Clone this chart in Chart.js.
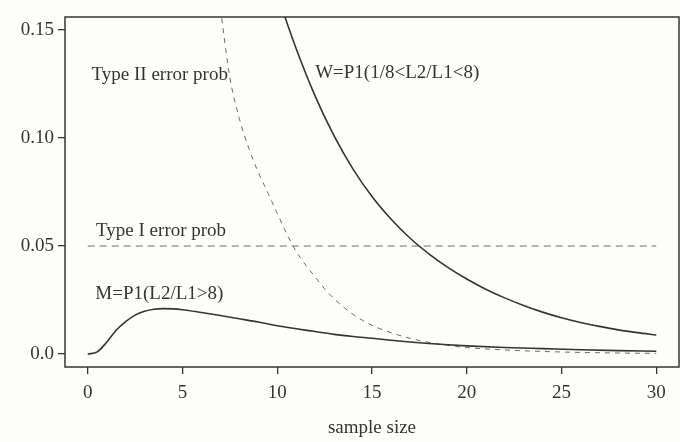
<!DOCTYPE html>
<html>
<head>
<meta charset="utf-8">
<title>sample size</title>
<script src="https://cdn.jsdelivr.net/npm/chart.js@4.4.1/dist/chart.umd.min.js"></script>
<style>
    html, body { margin: 0; padding: 0; background: #fdfdfa; }
    canvas { display: block; }
</style>
</head>
<body>
<canvas id="errorChart" width="680" height="442"></canvas>
<script>
// values
const mSize = [0, 0.5, 1, 1.5, 2, 2.5, 3, 3.5, 4, 4.5, 5, 6, 7, 8, 9, 10, 11, 12, 13, 14, 15, 16, 17, 18, 19, 20, 22, 24, 26, 28, 30];
const mProb = [0, 0.001, 0.0055, 0.011, 0.015, 0.018, 0.0198, 0.0207, 0.021, 0.0209, 0.0205, 0.0192, 0.0178, 0.0163, 0.0148, 0.0131, 0.0117, 0.0104, 0.0091, 0.0081, 0.0073, 0.0064, 0.0056, 0.0049, 0.0043, 0.0038, 0.003, 0.0025, 0.002, 0.0016, 0.0013];

const wSize = [10, 11, 12, 13, 14, 15, 16, 17, 18, 19, 20, 21, 22, 23, 24, 25, 26, 27, 28, 29, 30];
const wProb = [0.1663, 0.1413, 0.1194, 0.101, 0.0856, 0.0729, 0.0625, 0.0537, 0.0464, 0.0401, 0.0347, 0.03, 0.026, 0.0225, 0.0194, 0.0168, 0.0146, 0.0128, 0.0112, 0.0099, 0.0088];

const type1Size = [0, 30];
const type1Prob = [0.05, 0.05];

const type2Size = [7, 7.5, 8, 8.5, 9, 9.5, 10, 10.5, 11, 11.5, 12, 12.5, 13, 13.5, 14, 14.5, 15, 16, 17, 18, 19, 20, 22, 24, 26, 28, 30];
const type2Prob = [0.16, 0.128, 0.109, 0.0952, 0.0841, 0.0747, 0.0651, 0.0557, 0.0475, 0.0412, 0.0357, 0.0302, 0.0256, 0.0217, 0.0183, 0.0156, 0.0133, 0.0099, 0.0073, 0.0054, 0.004, 0.003, 0.0019, 0.0012, 0.00075, 0.00048, 0.0003];

const xTickValues = [0, 5, 10, 15, 20, 25, 30];
const xTickLabels = ['0', '5', '10', '15', '20', '25', '30'];
const yTickValues = [0, 0.05, 0.1, 0.15];
const yTickLabels = ['0.0', '0.05', '0.10', '0.15'];

const seriesNames = ['M=P1(L2/L1>8)', 'W=P1(1/8<L2/L1<8)', 'Type I error prob', 'Type II error prob'];
const xTitle = 'sample size';

const ink = '#363432';
const dashInk = '#6e6c69';
const serif = '"Liberation Serif", "Times New Roman", serif';

function toPoints(xs, ys) {
    return xs.map((v, i) => ({ x: v, y: ys[i] }));
}

// where the curve names sit, in data units
const labelSpots = [
    { x: 0.4, y: 0.0276 },
    { x: 12.0, y: 0.13 },
    { x: 0.44, y: 0.0568 },
    { x: 0.2, y: 0.129 }
];

const plotDecor = {
    id: 'plotDecor',
    beforeDraw(chart) {
        const ctx = chart.ctx;
        ctx.save();
        ctx.fillStyle = '#fdfdfa';
        ctx.fillRect(0, 0, chart.width, chart.height);
        ctx.restore();
    },
    afterDraw(chart) {
        const { ctx, chartArea: a, scales } = chart;
        ctx.save();
        ctx.strokeStyle = ink;
        ctx.lineWidth = 1.5;
        ctx.strokeRect(a.left, a.top, a.right - a.left, a.bottom - a.top);

        ctx.fillStyle = ink;
        ctx.font = '19px ' + serif;
        ctx.textBaseline = 'middle';
        ctx.textAlign = 'left';
        seriesNames.forEach((name, i) => {
            ctx.fillText(name, scales.x.getPixelForValue(labelSpots[i].x), scales.y.getPixelForValue(labelSpots[i].y));
        });

        ctx.textAlign = 'center';
        ctx.fillText(xTitle, scales.x.getPixelForValue(15), 428);
        ctx.restore();
    }
};

const errorChart = new Chart(document.getElementById('errorChart').getContext('2d'), {
    type: 'line',
    data: {
        datasets: [
            {
                label: seriesNames[0],
                data: toPoints(mSize, mProb),
                borderColor: ink,
                borderWidth: 1.6,
                cubicInterpolationMode: 'monotone'
            },
            {
                label: seriesNames[1],
                data: toPoints(wSize, wProb),
                borderColor: ink,
                borderWidth: 1.6,
                cubicInterpolationMode: 'monotone'
            },
            {
                label: seriesNames[2],
                data: toPoints(type1Size, type1Prob),
                borderColor: dashInk,
                borderWidth: 1,
                borderDash: [7, 5]
            },
            {
                label: seriesNames[3],
                data: toPoints(type2Size, type2Prob),
                borderColor: dashInk,
                borderWidth: 1,
                borderDash: [5, 5],
                cubicInterpolationMode: 'monotone'
            }
        ]
    },
    options: {
        responsive: false,
        animation: false,
        devicePixelRatio: 1,
        layout: { padding: { top: 17, right: 1, left: 0, bottom: 0 } },
        elements: { point: { radius: 0 } },
        plugins: {
            legend: { display: false },
            tooltip: { enabled: false }
        },
        scales: {
            x: {
                type: 'linear',
                min: -1.2,
                max: 31.2,
                afterBuildTicks: (scale) => { scale.ticks = xTickValues.map(v => ({ value: v })); },
                afterFit: (scale) => { scale.height = 75; },
                border: { display: false },
                grid: { drawOnChartArea: false, drawTicks: true, tickLength: 7, color: ink, lineWidth: 1.3 },
                ticks: {
                    padding: 8,
                    color: ink,
                    font: { family: serif, size: 19 },
                    maxRotation: 0,
                    callback: (v, i) => xTickLabels[i]
                }
            },
            y: {
                min: -0.006,
                max: 0.156,
                afterBuildTicks: (scale) => { scale.ticks = yTickValues.map(v => ({ value: v })); },
                afterFit: (scale) => { scale.width = 65; },
                border: { display: false },
                grid: { drawOnChartArea: false, drawTicks: true, tickLength: 7, color: ink, lineWidth: 1.3 },
                ticks: {
                    padding: 4,
                    color: ink,
                    font: { family: serif, size: 19 },
                    callback: (v, i) => yTickLabels[i]
                }
            }
        }
    },
    plugins: [plotDecor]
});
</script>
</body>
</html>
